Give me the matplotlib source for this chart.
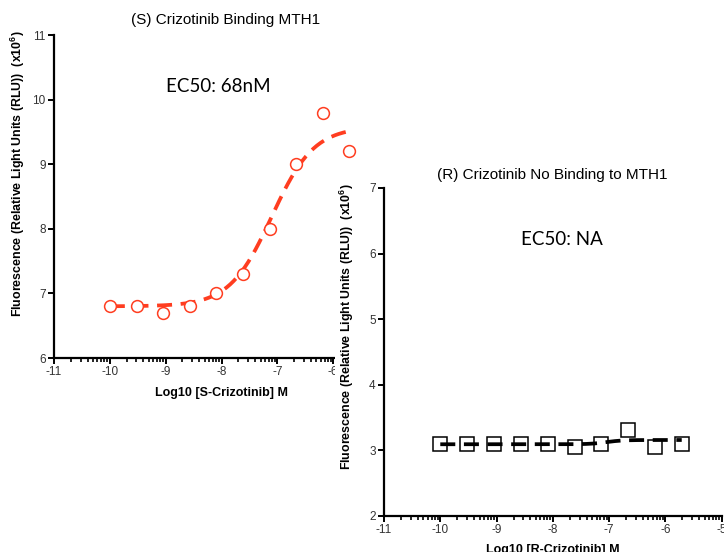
import numpy as np
import matplotlib
matplotlib.use("Agg")
import matplotlib.pyplot as plt
from matplotlib.patches import Rectangle

plt.rcParams['font.family'] = ['Liberation Sans', 'DejaVu Sans']
plt.rcParams['mathtext.fontset'] = 'custom'
plt.rcParams['mathtext.rm'] = 'Liberation Sans:bold'
plt.rcParams['mathtext.bf'] = 'Liberation Sans:bold'
plt.rcParams['axes.unicode_minus'] = False

# data
log_conc = [-10.0, -9.52, -9.05, -8.57, -8.09, -7.61, -7.14, -6.66, -6.18, -5.71]
s_signal = [6.8, 6.8, 6.7, 6.8, 7.0, 7.3, 8.0, 9.0, 9.8, 9.2]
r_signal = [3.1, 3.1, 3.1, 3.1, 3.1, 3.05, 3.1, 3.3, 3.05, 3.1]

# fitted 4PL parameters (bottom, top, logEC50, hill)
s_fit = (6.8, 9.58, -7.1, 1.15)
r_fit = (3.09, 3.155, -7.05, 3.0)

s_title = "(S) Crizotinib Binding MTH1"
r_title = "(R) Crizotinib No Binding to MTH1"
ylab = r"Fluorescence (Relative Light Units (RLU))  (x10$^{6}$)"

red = "#ff3d20"


def four_pl(x, bottom, top, logec50, hill):
    return bottom + (top - bottom) / (1 + 10 ** ((logec50 - x) * hill))


def style_axes(ax, ylo, yhi):
    ax.set_xlim(-11, -5)
    ax.set_ylim(ylo, yhi)
    ax.set_xticks(range(-11, -4))
    ax.set_yticks(range(ylo, yhi + 1))
    minors = [d + np.log10(k) for d in range(-11, -5) for k in range(2, 10)]
    ax.set_xticks(minors, minor=True)
    for s in ["top", "right"]:
        ax.spines[s].set_visible(False)
    for s in ["left", "bottom"]:
        ax.spines[s].set_linewidth(1.6)
    ax.tick_params(axis="both", which="major", direction="out", length=4,
                   width=1.4, labelsize=8.5, labelcolor="#333333", pad=2)
    ax.tick_params(axis="x", which="minor", direction="out", length=3, width=1.2)
    ax.patch.set_alpha(0)


fig = plt.figure(figsize=(7.24, 5.52), dpi=100)
W, H = 724.0, 552.0

xfit = np.linspace(log_conc[0], log_conc[-1], 200)

# left panel
ax1 = fig.add_axes([54 / W, 1 - 358 / H, 335 / W, 323 / H], zorder=0)
style_axes(ax1, 6, 11)
ax1.plot(xfit, four_pl(xfit, *s_fit), color=red, lw=2.7, dashes=(4, 2.3), clip_on=False)
ax1.plot(log_conc, s_signal, "o", ms=8.5, mfc="white", mec=red, mew=1.1, clip_on=False)
ax1.set_xlabel("Log10 [S-Crizotinib] M", fontsize=9, fontweight="bold", labelpad=6)
fig.text(18 / W, 1 - 174 / H, ylab, rotation=90, fontsize=8.9, fontweight="bold",
         ha="center", va="center")
fig.text(226 / W, 1 - 20 / H, s_title, fontsize=11, ha="center", va="center")
fig.text(218 / W, 1 - 86 / H, "EC50: 68nM", fontsize=13.5, family="Lato",
         ha="center", va="center")

# white panel of the right chart, laid over the left one
bg = Rectangle((335 / W, 0), 1 - 335 / W, 1 - 163 / H, transform=fig.transFigure,
               facecolor="white", edgecolor="none", zorder=1)
fig.add_artist(bg)

# right panel
ax2 = fig.add_axes([384 / W, 1 - 515.7 / H, 337.7 / W, 327.7 / H], zorder=2)
style_axes(ax2, 2, 7)
ax2.plot(xfit, four_pl(xfit, *r_fit), color="black", lw=2.7, dashes=(4, 2.3))
ax2.plot(log_conc, r_signal, "s", ms=9.5, mfc="none", mec="black", mew=1.1, clip_on=False)
ax2.set_xlabel("Log10 [R-Crizotinib] M", fontsize=9, fontweight="bold", labelpad=6)
ax2.text(-0.11, 0.576, ylab, transform=ax2.transAxes, rotation=90, fontsize=8.9,
         fontweight="bold", ha="center", va="center")
fig.text(552 / W, 1 - 175 / H, r_title, fontsize=11, ha="center", va="center", zorder=3)
fig.text(562 / W, 1 - 240 / H, "EC50: NA", fontsize=13.5, family="Lato",
         ha="center", va="center", zorder=3)

fig.savefig("out.png", dpi=100)
